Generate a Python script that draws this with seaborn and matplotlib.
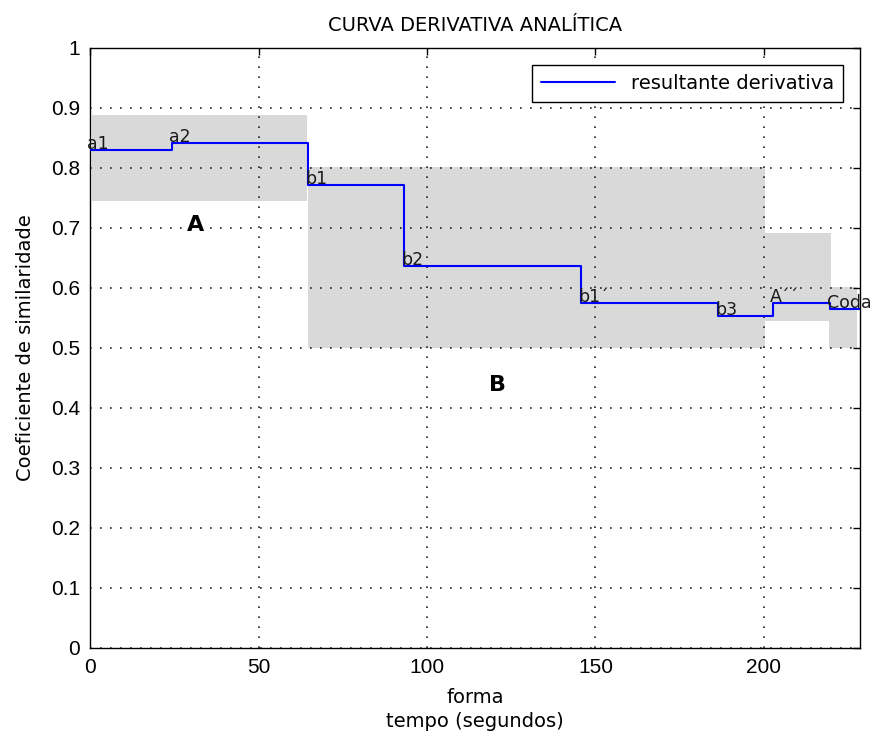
import numpy as np
import pandas as pd
import matplotlib
matplotlib.use("Agg")
import matplotlib.pyplot as plt
import seaborn as sns
from matplotlib.patches import Rectangle

# Dados da curva (inicio de cada degrau e valor)
inicio_secao = [0, 24.3, 64.6, 93.2, 145.8, 186.3, 202.6, 219.6]
valor_secao = [0.83, 0.842, 0.772, 0.637, 0.575, 0.553, 0.575, 0.565]
rotulos = ["a1", "a2", "b1", "b2", "b1´", "b3", "A´´", "Coda"]
x_final = 228.5

# Regioes sombreadas: (x0, x1, y0, y1)
reg_x0 = [0.5, 64.7, 200.3, 219.3]
reg_x1 = [64.4, 200.3, 219.8, 227.6]
reg_y0 = [0.745, 0.5, 0.545, 0.5]
reg_y1 = [0.888, 0.802, 0.692, 0.602]

# Letras das partes
letras = ["A", "B"]
letras_x = [31.2, 120.8]
letras_y = [0.705, 0.438]

df = pd.DataFrame({
    "tempo": inicio_secao + [x_final],
    "similaridade": valor_secao + [valor_secao[-1]],
})

sns.set_style("white")
plt.rcParams["font.family"] = ["DejaVu Sans"]
plt.rcParams["text.color"] = "black"
plt.rcParams["axes.labelcolor"] = "black"

fig = plt.figure(figsize=(8.74, 7.37), dpi=100)
ax = fig.add_axes([0.103, 0.1208, 0.881, 0.8141])

for x0, x1, y0, y1 in zip(reg_x0, reg_x1, reg_y0, reg_y1):
    ax.add_patch(Rectangle((x0, y0), x1 - x0, y1 - y0, facecolor="#d9d9d9",
                           edgecolor="none", zorder=0))

sns.lineplot(data=df, x="tempo", y="similaridade", drawstyle="steps-post",
             color="#0000ff", linewidth=1.5, label="resultante derivativa",
             ax=ax, zorder=3)

for x, y, r in zip(inicio_secao, valor_secao, rotulos):
    ax.text(x - 0.8, y + 0.002, r, ha="left", va="baseline", fontsize=12.5,
            color="#1a1a1a", clip_on=False, zorder=4)

for x, y, l in zip(letras_x, letras_y, letras):
    ax.text(x, y, l, ha="center", va="center", fontsize=16,
            fontweight="bold", color="black", zorder=4)

ax.set_xlim(0, x_final)
ax.set_ylim(0, 1)
ax.set_xticks([0, 50, 100, 150, 200])
ax.set_yticks(np.round(np.arange(0, 1.01, 0.1), 1))
ax.set_yticklabels(["0", "0.1", "0.2", "0.3", "0.4", "0.5", "0.6", "0.7",
                    "0.8", "0.9", "1"])
ax.grid(True, linestyle=(0, (1, 5)), color="black", linewidth=1.2, alpha=0.85)
ax.tick_params(direction="in", length=5, width=1, top=True, right=True,
               colors="black", pad=7, labelsize=15,
               labelfontfamily="Liberation Sans")
for s in ax.spines.values():
    s.set_color("black")
    s.set_linewidth(1)
ax.set_axisbelow(False)

ax.set_title("CURVA DERIVATIVA ANALÍTICA", fontsize=14, pad=12)
ax.set_xlabel("forma\ntempo (segundos)", fontsize=14, linespacing=1.35,
              labelpad=8)
ax.set_ylabel("Coeficiente de similaridade", fontsize=14, labelpad=12)

leg = ax.legend(loc="upper right", fontsize=14, fancybox=False,
                edgecolor="black", framealpha=1, handlelength=3.8,
                borderaxespad=0.9, borderpad=0.45)
leg.get_frame().set_linewidth(1)

fig.savefig("out.png", dpi=100)
